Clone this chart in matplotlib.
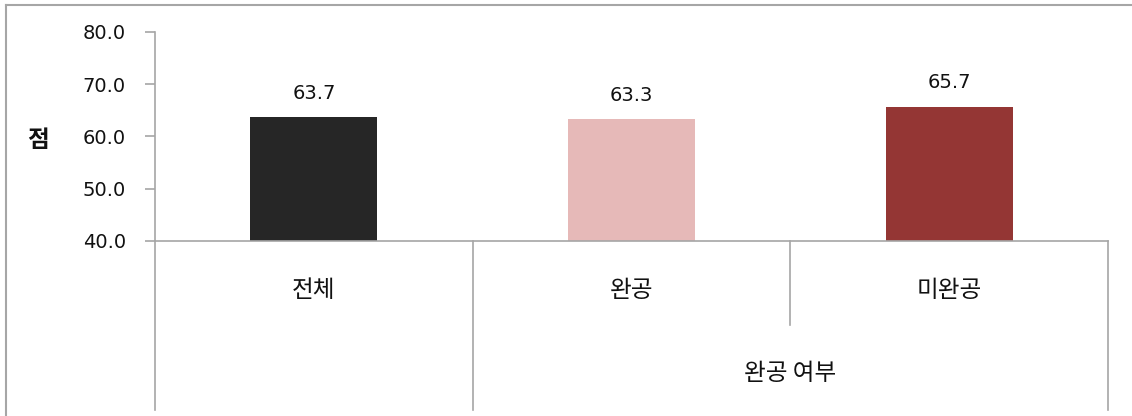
import matplotlib
matplotlib.use("Agg")
import matplotlib.pyplot as plt
from matplotlib.lines import Line2D

# 완공 여부별 점수
categories = ["전체", "완공", "미완공"]
values = [63.7, 63.3, 65.7]
bar_colors = ["#262626", "#E6B9B8", "#943634"]
group_label = "완공 여부"
y_label = "점"
y_ticks = [40.0, 50.0, 60.0, 70.0, 80.0]

KR = ["Noto Sans CJK KR", "DejaVu Sans"]
LINE = "#A6A6A6"
TXT = "#111111"

plt.rcParams["font.family"] = ["DejaVu Sans", "Noto Sans CJK KR"]

W, H = 1132, 416
fig = plt.figure(figsize=(W / 100, H / 100), dpi=100)
ax = fig.add_axes([155 / W, (H - 241) / H, (1108 - 155) / W, (241 - 32) / H])

x = list(range(len(categories)))
ax.bar(x, [v - y_ticks[0] for v in values], bottom=y_ticks[0], width=0.4,
       color=bar_colors, zorder=2)
for xi, v in zip(x, values):
    ax.text(xi, v + 4.6, f"{v:.1f}", ha="center", va="center", fontsize=14,
            color=TXT)

ax.set_xlim(-0.5, len(categories) - 0.5)
ax.set_ylim(y_ticks[0], y_ticks[-1])
ax.set_yticks(y_ticks)
ax.set_yticklabels([f"{t:.1f}" for t in y_ticks], fontsize=14, color=TXT)
ax.set_xticks([])
ax.tick_params(axis="y", length=7, color=LINE, width=1.2, pad=14)
for side in ("top", "right"):
    ax.spines[side].set_visible(False)
for side in ("left", "bottom"):
    ax.spines[side].set_color(LINE)
    ax.spines[side].set_linewidth(1.2)

fig.text(38 / W, (H - 140) / H, y_label, family=KR, fontsize=17,
         fontweight="bold", ha="center", va="center", color=TXT)

# 범주 표 (축 아래 구분선과 라벨)
tr = ax.get_xaxis_transform()
full, half = -0.81, -0.40
edges = [i - 0.5 for i in range(len(categories) + 1)]
for i, e in enumerate(edges):
    bottom = half if i == 2 else full
    ax.add_line(Line2D([e, e], [0, bottom], transform=tr, color=LINE,
                       lw=1.2, clip_on=False))
for xi, c in zip(x, categories):
    ax.text(xi, -0.235, c, transform=tr, family=KR, fontsize=17,
            ha="center", va="center", color=TXT)
ax.text((edges[1] + edges[-1]) / 2, -0.635, group_label, transform=tr,
        family=KR, fontsize=17, ha="center", va="center", color=TXT)

# 바깥 테두리
fig.add_artist(Line2D([5.5 / W, 5.5 / W], [0, (H - 4.5) / H], color=LINE, lw=1.5))
fig.add_artist(Line2D([5.5 / W, 1], [(H - 4.5) / H] * 2, color=LINE, lw=1.5))

fig.savefig("out.png", dpi=100)
